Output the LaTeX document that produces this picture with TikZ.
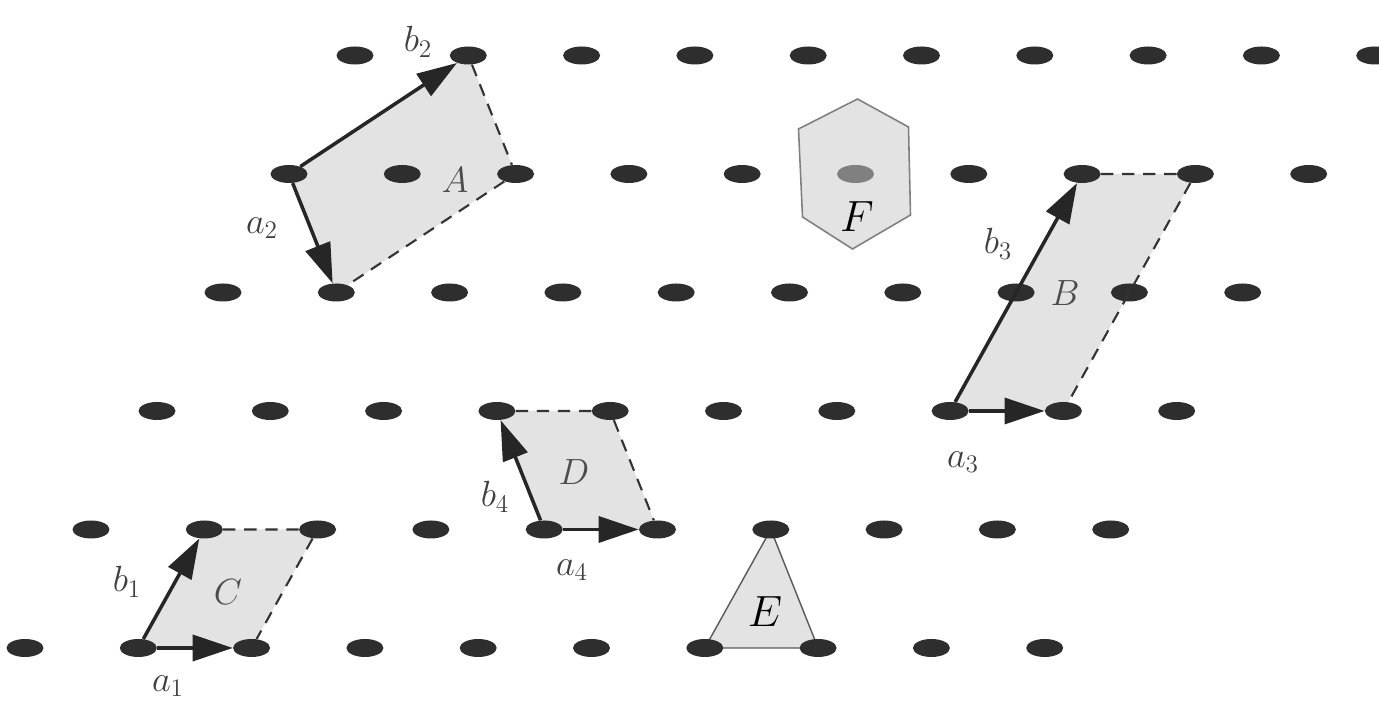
\documentclass[tikz,border=0pt]{standalone}
\usetikzlibrary{arrows.meta,shapes.geometric,backgrounds}
\begin{document}
\begin{tikzpicture}[x={(2.266cm,0cm)},y={(1.32cm,2.37cm)},
    site/.style={ellipse,inner sep=0pt,minimum width=0.74cm,minimum height=0.36cm},
    vec/.style={line width=2pt,black!85,-{Triangle[length=0.8cm,width=0.52cm]}},
    side/.style={line width=1.2pt,black!80,dash pattern=on 7pt off 5pt},
    cell/.style={fill=black!11},
    vlabel/.style={black!75,font=\fontsize{21}{24}\selectfont},
    clabel/.style={black!70,font=\fontsize{21}{24}\selectfont},
    blabel/.style={font=\fontsize{30}{34}\selectfont}]
   \useasboundingbox (-0.5cm,-1.08cm) rectangle (27.08cm,12.96cm);
   \foreach \j in {0,...,5}
     \foreach \i in {0,...,9} {
       \ifnum\i\j=54 \def\c{black!50}\else\def\c{black!82}\fi
       \node[site,fill=\c] (p-\i-\j) at (\i,\j) {};
     }
   \begin{scope}[on background layer]
     \fill[cell] (p-0-4.center) -- (p-1-5.center) -- (p-2-4.center) -- (p-1-3.center) -- cycle;
     \fill[cell] (p-7-2.center) -- (p-7-4.center) -- (p-8-4.center) -- (p-8-2.center) -- cycle;
     \fill[cell] (p-1-0.center) -- (p-1-1.center) -- (p-2-1.center) -- (p-2-0.center) -- cycle;
     \fill[cell] (p-4-1.center) -- (p-3-2.center) -- (p-4-2.center) -- (p-5-1.center) -- cycle;
     \draw[cell,draw=black!65,line width=0.8pt] (p-6-0.center) -- (p-6-1.center) -- (p-7-0.center) -- cycle;
     \begin{scope}[shift={(5,4)}]
       \draw[cell,draw=black!50,line width=0.9pt] (0.04cm,1.5cm) -- (1.06cm,0.94cm) -- (1.1cm,-0.82cm)
         -- (-0.06cm,-1.5cm) -- (-1.06cm,-0.86cm) -- (-1.14cm,0.9cm) -- cycle;
     \end{scope}
   \end{scope}
   % A
   \draw[vec] (p-0-4) -- (p-1-5);
   \draw[vec] (p-0-4) -- (p-1-3);
   \draw[side] (p-1-5) -- (p-2-4) -- (p-1-3);
   % B
   \draw[vec] (p-7-2) -- (p-8-2);
   \draw[vec] (p-7-2) -- (p-7-4);
   \draw[side] (p-7-4) -- (p-8-4) -- (p-8-2);
   % C
   \draw[vec] (p-1-0) -- (p-2-0);
   \draw[vec] (p-1-0) -- (p-1-1);
   \draw[side] (p-1-1) -- (p-2-1) -- (p-2-0);
   % D
   \draw[vec] (p-4-1) -- (p-5-1);
   \draw[vec] (p-4-1) -- (p-3-2);
   \draw[side] (p-3-2) -- (p-4-2) -- (p-5-1);
   \foreach \n/\l/\x/\y in
     {b2/{$b_2$}/7.86/12.12, a2/{$a_2$}/4.74/8.4,
      b3/{$b_3$}/19.46/8.08, a3/{$a_3$}/18.76/3.72,
      b1/{$b_1$}/2.04/1.32,  a1/{$a_1$}/2.86/-0.76,
      b4/{$b_4$}/9.4/3.02,   a4/{$a_4$}/10.94/1.56}
     \node[vlabel] (l-\n) at (\x cm,\y cm) {\l};
   \foreach \n/\x/\y in {A/8.6/9.36, B/20.8/7.1, C/4.06/1.12, D/10.98/3.52}
     \node[clabel] (l-\n) at (\x cm,\y cm) {$\n$};
   \node[blabel] (l-E) at (14.8cm,0.72cm) {$E$};
   \node[blabel] (l-F) at (16.64cm,8.62cm) {$F$};
\end{tikzpicture}
\end{document}
